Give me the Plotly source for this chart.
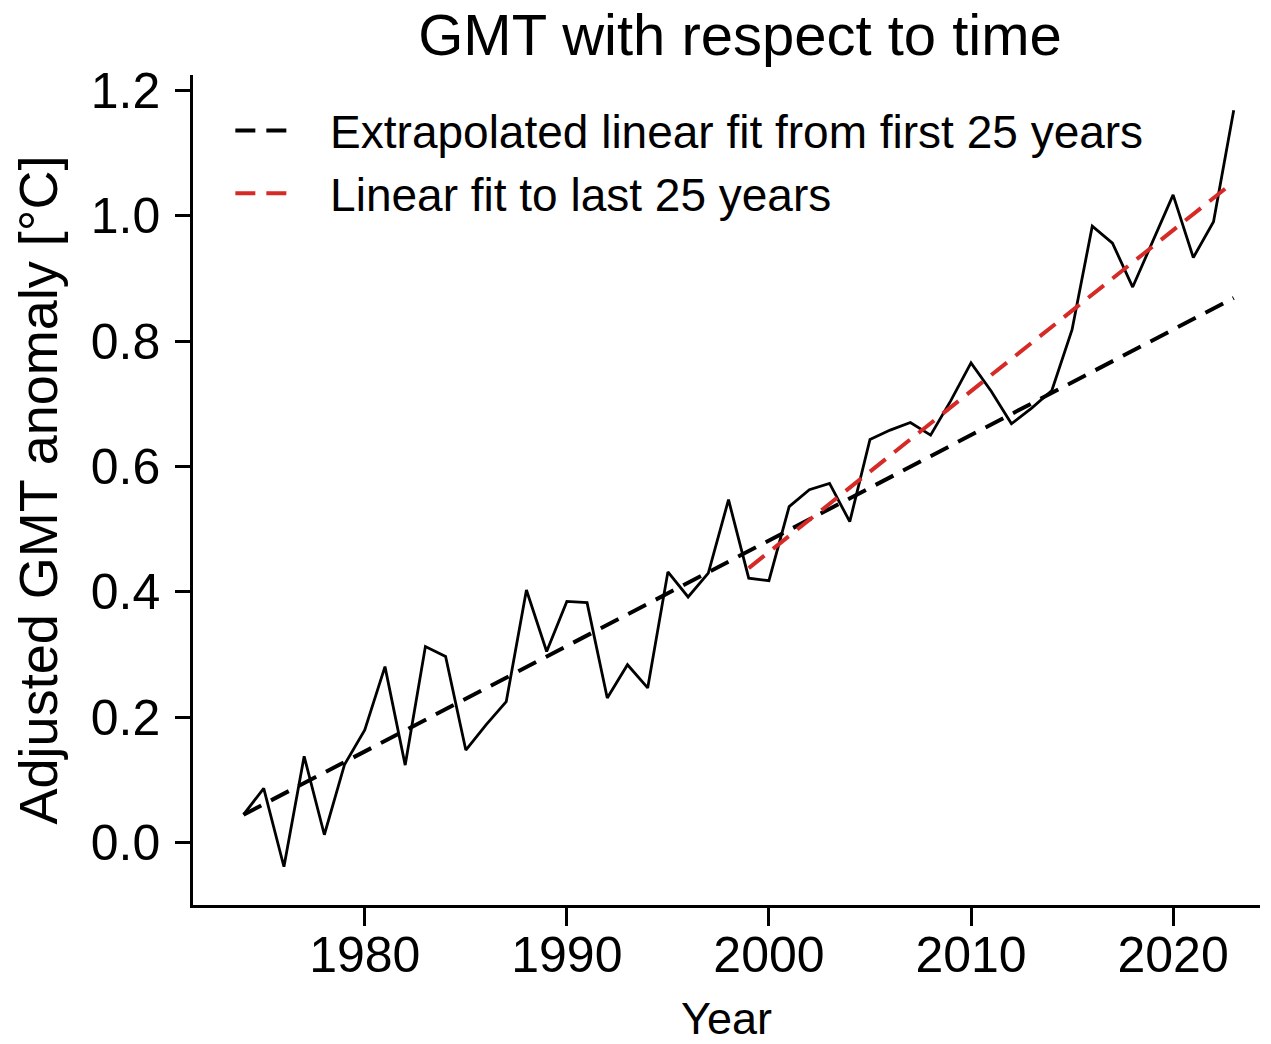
import numpy as np
import plotly.graph_objects as go

years = list(range(1974, 2024))
gmt = [0.045, 0.087, -0.038, 0.138, 0.013, 0.125, 0.180, 0.281, 0.124, 0.313,
       0.297, 0.148, 0.188, 0.225, 0.403, 0.305, 0.385, 0.383, 0.231, 0.284,
       0.247, 0.432, 0.392, 0.430, 0.547, 0.422, 0.418, 0.536, 0.563, 0.573,
       0.512, 0.643, 0.658, 0.670, 0.650, 0.705, 0.765, 0.720, 0.668, 0.693,
       0.721, 0.818, 0.983, 0.956, 0.886, 0.960, 1.033, 0.933, 0.990, 1.168]
x_ticks = [1980, 1990, 2000, 2010, 2020]
y_ticks = [0.0, 0.2, 0.4, 0.6, 0.8, 1.0, 1.2]

x = np.array(years, dtype=float)
y = np.array(gmt)
n = 25
p_first = np.polyfit(x[:n], y[:n], 1)
p_last = np.polyfit(x[-n:], y[-n:], 1)
fit_first = np.polyval(p_first, x)
fit_last = np.polyval(p_last, x[-n:])

FONT = "Liberation Sans"
NB = "\u00a0\u00a0\u2009"
W, H = 1263, 1036  # page body adds an 8px margin

fig = go.Figure()
fig.add_trace(go.Scatter(x=years, y=gmt, mode="lines", line=dict(color="black", width=2.8),
                         showlegend=False))
fig.add_trace(go.Scatter(x=years, y=fit_first, mode="lines",
                         line=dict(color="black", width=4, dash="20px,11px"),
                         name=NB + "Extrapolated linear fit from first 25 years"))
fig.add_trace(go.Scatter(x=years[-n:], y=fit_last, mode="lines",
                         line=dict(color="#d62a27", width=4, dash="20px,11px"),
                         name=NB + "Linear fit to last 25 years"))

fig.update_layout(
    width=W, height=H,
    margin=dict(l=185, r=11, t=67, b=139),
    paper_bgcolor="white", plot_bgcolor="white",
    font=dict(family=FONT, color="black", size=50),
    title=dict(text="GMT with respect to time", x=732 / W, xref="container", xanchor="center",
               y=0.994, yanchor="top", font=dict(size=58)),
    legend=dict(x=0.035, y=0.977, xanchor="left", yanchor="top",
                font=dict(size=46), bgcolor="rgba(0,0,0,0)", tracegroupgap=0,
                itemwidth=55),
    xaxis=dict(range=[1971.5, 2024.3], tickvals=x_ticks, automargin=False,
               showline=True, linecolor="black", linewidth=2.5, ticks="outside",
               ticklen=18, tickwidth=2.5, tickcolor="black", showgrid=False,
               zeroline=False, ticklabelstandoff=-14,
               title=dict(text="Year", font=dict(size=45), standoff=44),
               tickfont=dict(size=50)),
    yaxis=dict(range=[-0.099, 1.224], tickvals=y_ticks, automargin=False,
               tickformat=".1f", showline=True, linecolor="black", linewidth=2.5,
               ticks="outside", ticklen=15, tickwidth=2.5, tickcolor="black",
               showgrid=False, zeroline=False, ticklabelstandoff=5,
               title=dict(text="Adjusted GMT anomaly [°C]", font=dict(size=54), standoff=28),
               tickfont=dict(size=50)),
)
fig.write_html("out.html")
